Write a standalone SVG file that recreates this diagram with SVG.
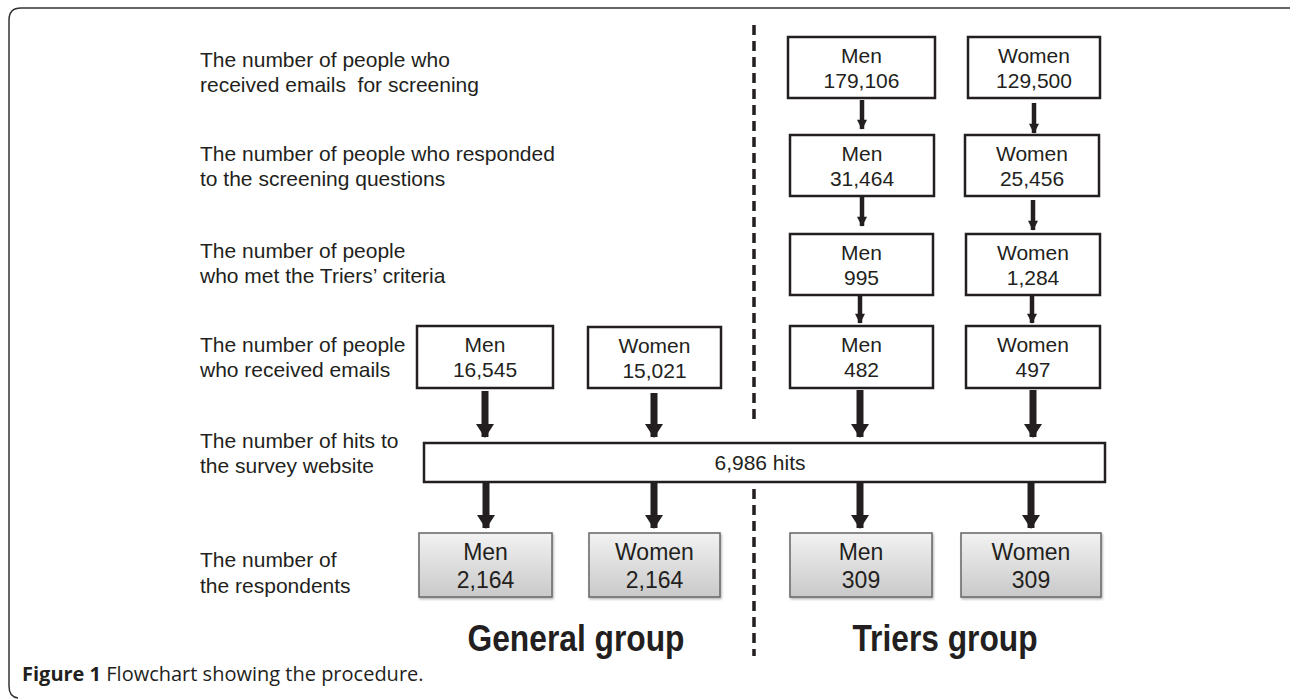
<svg xmlns="http://www.w3.org/2000/svg" width="1290" height="700" viewBox="0 0 1290 700">
<style>
.lbl{font-family:"Liberation Sans",Arial,sans-serif;font-size:21px;fill:#231f20;white-space:pre}
.bt{font-family:"Liberation Sans",Arial,sans-serif;font-size:21px;fill:#231f20;text-anchor:middle}
.bt2{font-family:"Liberation Sans",Arial,sans-serif;font-size:23px;fill:#231f20;text-anchor:middle}
.box{fill:#fff;stroke:#231f20;stroke-width:2.5}
.gbox{fill:url(#g);stroke:#666;stroke-width:1.5}
.grp{font-family:"Liberation Sans",Arial,sans-serif;font-size:36px;font-weight:bold;fill:#231f20;text-anchor:middle}
.cap{font-family:"Open Sans","Liberation Sans",sans-serif;font-size:20px;fill:#231f20}
.thin{stroke:#231f20;stroke-width:4.5;marker-end:url(#ah)}
.thick{stroke:#231f20;stroke-width:7;marker-end:url(#ah2)}
.dash{stroke:#231f20;stroke-width:3.5;stroke-dasharray:10 6;fill:none}
</style>
<defs>
<linearGradient id="g" x1="0" y1="0" x2="0" y2="1">
<stop offset="0" stop-color="#f2f2f2"/>
<stop offset="1" stop-color="#c9c9c9"/>
</linearGradient>
<filter id="sh" x="-5%" y="-5%" width="115%" height="120%">
<feDropShadow dx="1" dy="1.5" stdDeviation="1" flood-color="#000" flood-opacity="0.3"/>
</filter>
<marker id="ah" markerUnits="userSpaceOnUse" markerWidth="12" markerHeight="10" refX="11" refY="6" viewBox="0 0 12 12" orient="auto">
<path d="M0,0 L12,6 L0,12 Z" fill="#231f20"/>
</marker>
<marker id="ah2" markerUnits="userSpaceOnUse" markerWidth="14" markerHeight="18" refX="13" refY="9" viewBox="0 0 14 18" orient="auto">
<path d="M0,0 L14,9 L0,18 Z" fill="#231f20"/>
</marker>
</defs>
<path d="M1290,8 L21,8 Q9,8 9,20 L9,686 Q9,697 18,698" fill="none" stroke="#333" stroke-width="1.5"/>
<g id="labels">
<text class="lbl" x="200" y="67">The number of people who</text>
<text class="lbl" x="200" y="92">received emails  for screening</text>
<text class="lbl" x="200" y="161">The number of people who responded</text>
<text class="lbl" x="200" y="186">to the screening questions</text>
<text class="lbl" x="200" y="258">The number of people</text>
<text class="lbl" x="200" y="283">who met the Triers’ criteria</text>
<text class="lbl" x="200" y="352">The number of people</text>
<text class="lbl" x="200" y="377">who received emails</text>
<text class="lbl" x="200" y="448">The number of hits to</text>
<text class="lbl" x="200" y="473">the survey website</text>
<text class="lbl" x="200" y="567">The number of</text>
<text class="lbl" x="200" y="593">the respondents</text>
</g>
<g id="divider">
<line class="dash" x1="754" y1="25" x2="754" y2="424"/>
<line class="dash" x1="754" y1="489" x2="754" y2="656"/>
</g>
<g id="t1m"><rect class="box" x="788" y="37" width="147" height="61"/><text class="bt" x="861.5" y="63">Men</text><text class="bt" x="861.5" y="88">179,106</text></g>
<g id="t1w"><rect class="box" x="968" y="37" width="132" height="61"/><text class="bt" x="1034" y="63">Women</text><text class="bt" x="1034" y="88">129,500</text></g>
<g id="t2m"><rect class="box" x="790" y="135" width="144" height="61"/><text class="bt" x="862" y="161">Men</text><text class="bt" x="862" y="186">31,464</text></g>
<g id="t2w"><rect class="box" x="965" y="135" width="134" height="61"/><text class="bt" x="1032" y="161">Women</text><text class="bt" x="1032" y="186">25,456</text></g>
<g id="t3m"><rect class="box" x="790" y="234" width="143" height="61"/><text class="bt" x="861.5" y="260">Men</text><text class="bt" x="861.5" y="285">995</text></g>
<g id="t3w"><rect class="box" x="966" y="234" width="134" height="61"/><text class="bt" x="1033" y="260">Women</text><text class="bt" x="1033" y="285">1,284</text></g>
<g id="t4m"><rect class="box" x="790" y="326" width="143" height="62"/><text class="bt" x="861.5" y="352">Men</text><text class="bt" x="861.5" y="377">482</text></g>
<g id="t4w"><rect class="box" x="966" y="326" width="134" height="62"/><text class="bt" x="1033" y="352">Women</text><text class="bt" x="1033" y="377">497</text></g>
<g id="g4m"><rect class="box" x="417" y="326" width="136" height="62"/><text class="bt" x="485" y="352">Men</text><text class="bt" x="485" y="377">16,545</text></g>
<g id="g4w"><rect class="box" x="588" y="327" width="133" height="61"/><text class="bt" x="654.5" y="353">Women</text><text class="bt" x="654.5" y="378">15,021</text></g>
<g id="hits"><rect class="box" x="424" y="443" width="681" height="39"/><text class="bt" x="760" y="470">6,986 hits</text></g>
<g id="g5m"><rect class="gbox" filter="url(#sh)" x="419" y="533" width="133" height="64"/><text class="bt2" x="485.5" y="560">Men</text><text class="bt2" x="485.5" y="588">2,164</text></g>
<g id="g5w"><rect class="gbox" filter="url(#sh)" x="589" y="533" width="131" height="64"/><text class="bt2" x="654.5" y="560">Women</text><text class="bt2" x="654.5" y="588">2,164</text></g>
<g id="t5m"><rect class="gbox" filter="url(#sh)" x="790" y="533" width="142" height="64"/><text class="bt2" x="861" y="560">Men</text><text class="bt2" x="861" y="588">309</text></g>
<g id="t5w"><rect class="gbox" filter="url(#sh)" x="961" y="533" width="140" height="64"/><text class="bt2" x="1031" y="560">Women</text><text class="bt2" x="1031" y="588">309</text></g>
<g id="connectors">
<line class="thin" x1="862" y1="100" x2="862" y2="129"/>
<line class="thin" x1="1034" y1="103" x2="1034" y2="133"/>
<line class="thin" x1="862" y1="197" x2="862" y2="226"/>
<line class="thin" x1="1033" y1="200" x2="1033" y2="230"/>
<line class="thin" x1="860" y1="296" x2="860" y2="323"/>
<line class="thin" x1="1032" y1="296" x2="1032" y2="323"/>
<line class="thick" x1="485" y1="391" x2="485" y2="437"/>
<line class="thick" x1="654" y1="393" x2="654" y2="437"/>
<line class="thick" x1="860" y1="390" x2="860" y2="437"/>
<line class="thick" x1="1033" y1="390" x2="1033" y2="437"/>
<line class="thick" x1="486" y1="483" x2="486" y2="528"/>
<line class="thick" x1="654" y1="483" x2="654" y2="528"/>
<line class="thick" x1="860" y1="483" x2="860" y2="528"/>
<line class="thick" x1="1031" y1="483" x2="1031" y2="528"/>
</g>
<g id="groups">
<text class="grp" x="576" y="651" textLength="217" lengthAdjust="spacingAndGlyphs">General group</text>
<text class="grp" x="945" y="651" textLength="185" lengthAdjust="spacingAndGlyphs">Triers group</text>
</g>
<text class="cap" x="22" y="681"><tspan font-weight="bold">Figure 1</tspan> Flowchart showing the procedure.</text>
</svg>
